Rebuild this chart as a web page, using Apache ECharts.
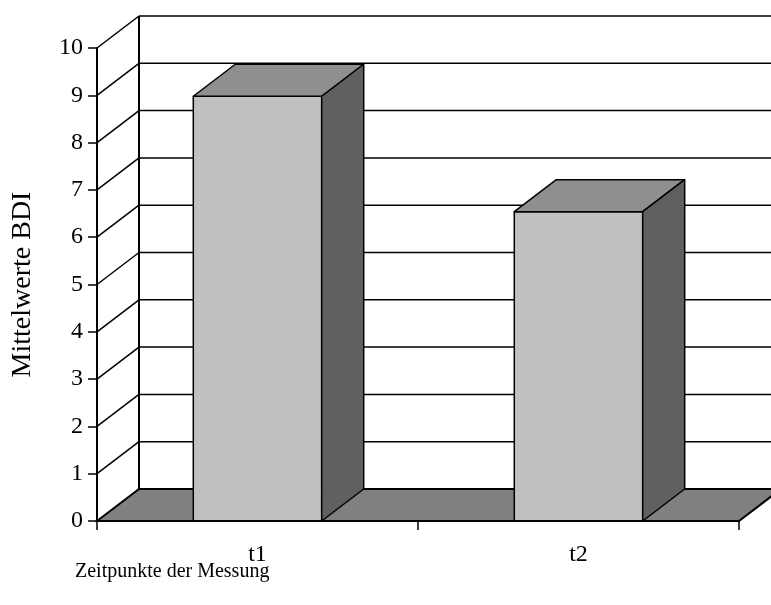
<!DOCTYPE html>
<html>
<head>
<meta charset="utf-8">
<title>Mittelwerte BDI</title>
<script src="https://cdn.jsdelivr.net/npm/echarts@6/dist/echarts.min.js"></script>
<style>
  html, body { margin: 0; padding: 0; background: #ffffff; }
  #chart { width: 771px; height: 605px; }
</style>
</head>
<body>
<div id="chart"></div>
<script>
// Measurement points and BDI means
const categories = ['t1', 't2'];
const meanValues = [8.98, 6.54];

// Value axis range and tick spacing
const yMin = 0;
const yMax = 10;
const yStep = 1;
const gridValues = [];
for (let v = yMin; v <= yMax; v += yStep) gridValues.push(v);

const yTitle = 'Mittelwerte BDI';
const xTitle = 'Zeitpunkte der Messung';

// Oblique depth of the pseudo-3D frame (pixels)
const DX = 42;
const DY = -32;
const FONT = '"Liberation Serif", "Times New Roman", serif';

const chart = echarts.init(document.getElementById('chart'), null, { renderer: 'canvas' });

// Floor, left wall diagonals and back-wall gridlines
function renderFrame(params, api) {
  const cs = params.coordSys;
  const v = api.value(1);
  const y = api.coord([0, v])[1];
  const x0 = cs.x;
  const x1 = cs.x + cs.width;
  const children = [];
  if (v === yMin) {
    const yTop = api.coord([0, yMax])[1];
    children.push({
      type: 'polygon',
      shape: { points: [[x0, y], [x0 + DX, y + DY], [x1 + DX, y + DY], [x1, y]] },
      style: { fill: '#808080', stroke: '#000', lineWidth: 2 }
    });
    children.push({
      type: 'line',
      shape: { x1: x0 + DX, y1: y + DY, x2: x0 + DX, y2: yTop + DY },
      style: { stroke: '#000', lineWidth: 2 }
    });
  } else {
    children.push({
      type: 'line',
      shape: { x1: x0, y1: y, x2: x0 + DX, y2: y + DY },
      style: { stroke: '#000', lineWidth: 1.5 }
    });
    children.push({
      type: 'line',
      shape: { x1: x0 + DX, y1: y + DY, x2: x1 + DX, y2: y + DY },
      style: { stroke: '#000', lineWidth: 1.5 }
    });
  }
  return { type: 'group', children: children };
}

// Shaded box for each column: front, top and right side faces
function renderBox(params, api) {
  const i = api.value(0);
  const val = api.value(1);
  const base = api.coord([i, 0]);
  const top = api.coord([i, val]);
  const band = api.size([1, 0])[0];
  const hw = band * 0.2;
  const l = base[0] - hw;
  const r = base[0] + hw;
  const yb = base[1];
  const yt = top[1];
  const edge = { stroke: '#000', lineWidth: 1.5, lineJoin: 'round' };
  return {
    type: 'group',
    children: [
      { type: 'polygon', shape: { points: [[l, yb], [l, yt], [r, yt], [r, yb]] },
        style: Object.assign({ fill: '#c0c0c0' }, edge) },
      { type: 'polygon', shape: { points: [[l, yt], [l + DX, yt + DY], [r + DX, yt + DY], [r, yt]] },
        style: Object.assign({ fill: '#8f8f8f' }, edge) },
      { type: 'polygon', shape: { points: [[r, yt], [r + DX, yt + DY], [r + DX, yb + DY], [r, yb]] },
        style: Object.assign({ fill: '#606060' }, edge) }
    ]
  };
}

chart.setOption({
  animation: false,
  backgroundColor: '#ffffff',
  grid: { left: 97, right: 32, top: 48, bottom: 84, containLabel: false, outerBoundsMode: 'none' },
  xAxis: {
    type: 'category',
    data: categories,
    boundaryGap: true,
    z: 10,
    axisLine: { show: true, lineStyle: { color: '#000', width: 2 } },
    axisTick: { show: true, length: 9, lineStyle: { color: '#000', width: 1.5 } },
    axisLabel: { color: '#000', fontFamily: FONT, fontSize: 24, margin: 22 },
    splitLine: { show: false }
  },
  yAxis: {
    type: 'value',
    min: yMin,
    max: yMax,
    interval: yStep,
    z: 10,
    axisLine: { show: true, lineStyle: { color: '#000', width: 2 } },
    axisTick: { show: true, length: 9, lineStyle: { color: '#000', width: 1.5 } },
    axisLabel: { color: '#000', fontFamily: FONT, fontSize: 24, margin: 14 },
    splitLine: { show: false },
    name: yTitle,
    nameLocation: 'middle',
    nameRotate: 90,
    nameGap: 60,
    nameTextStyle: { color: '#000', fontFamily: FONT, fontSize: 28 }
  },
  graphic: [{
    type: 'text',
    left: 75,
    top: 562,
    style: { text: xTitle, fill: '#000', font: '20px ' + FONT }
  }],
  series: [
    {
      type: 'custom',
      z: 1,
      renderItem: renderFrame,
      encode: { x: 0, y: 1 },
      data: gridValues.map(v => [0, v]),
      silent: true
    },
    {
      type: 'custom',
      z: 3,
      renderItem: renderBox,
      encode: { x: 0, y: 1 },
      data: meanValues.map((v, i) => [i, v])
    }
  ]
});
</script>
</body>
</html>
